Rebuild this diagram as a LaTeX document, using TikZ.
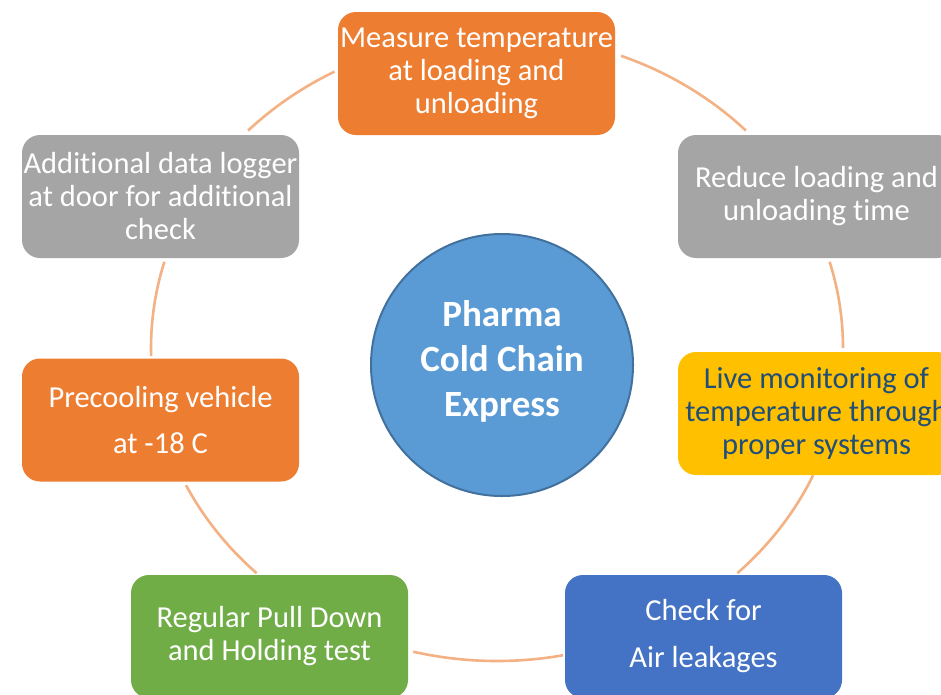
\documentclass[tikz,border=0pt]{standalone}
\usepackage{fontspec}
\setmainfont{Carlito}[Ligatures=NoCommon]
\usetikzlibrary{calc}
\definecolor{cOrange}{HTML}{ED7D31}
\definecolor{cGray}{HTML}{A5A5A5}
\definecolor{cYellow}{HTML}{FFC000}
\definecolor{cBlue}{HTML}{4472C4}
\definecolor{cGreen}{HTML}{70AD47}
\definecolor{cHub}{HTML}{5B9BD5}
\definecolor{cHubEdge}{HTML}{41719C}
\definecolor{cRing}{HTML}{F4B183}
\definecolor{cNavy}{HTML}{1F4E79}
\tikzset{
  stage/.style={rectangle, rounded corners=18pt, minimum width=277pt,
    minimum height=123pt, inner sep=0pt, align=center, text=white,
    font=\fontsize{30.5}{33}\selectfont},
  hub/.style={circle, minimum size=262pt, inner sep=0pt, fill=cHub,
    draw=cHubEdge, line width=2pt},
  hubtext/.style={align=center, text=white,
    font=\fontsize{37}{45}\selectfont\bfseries},
  ring/.style={draw=cRing, line width=2.6pt}
}
\begin{document}
\begin{tikzpicture}[x=1pt, y=-1pt]
  \useasboundingbox (0,0) rectangle (941,694);
  \clip (0,0) rectangle (941,694);
  \fill[white] (0,0) rectangle (941,694);

  % elliptical cycle drawn as segments between the stages
  \coordinate (ring) at (497,348);
  \foreach \a/\b in {224/242, 291/316, 344/360, 24/46, 79/104, 134/154, 178.5/196}{
    \draw[ring] ($(ring)+(\a:346 and 313)$) arc[start angle=\a, end angle=\b,
      x radius=346, y radius=313];
  }

  % stages around the cycle
  \node[stage, fill=cOrange] (measure) at (476.5,73.5)
    {Measure temperature\\at loading and\\unloading};
  \node[stage, fill=cGray] (reduce) at (816.5,196.5)
    {Reduce loading and\\unloading time};
  \node[stage, fill=cYellow, text=cNavy] (live) at (816.5,413.5)
    {Live monitoring of\\temperature through\\proper systems};
  \node[stage, fill=cBlue] (leak) at (703.5,636.5)
    {Check for\\[14pt]Air leakages};
  \node[stage, fill=cGreen] (pull) at (269.5,636.5)
    {Regular Pull Down\\and Holding test};
  \node[stage, fill=cOrange] (precool) at (160.5,420)
    {Precooling vehicle\\[13pt]at -18 C};
  \node[stage, fill=cGray] (logger) at (160.5,196.5)
    {Additional data logger\\at door for additional\\check};

  % central hub
  \node[hub] (hub) at (502,365) {};
  \node[hubtext] (hubt) at (502,361) {Pharma\\Cold Chain\\Express};
\end{tikzpicture}
\end{document}
